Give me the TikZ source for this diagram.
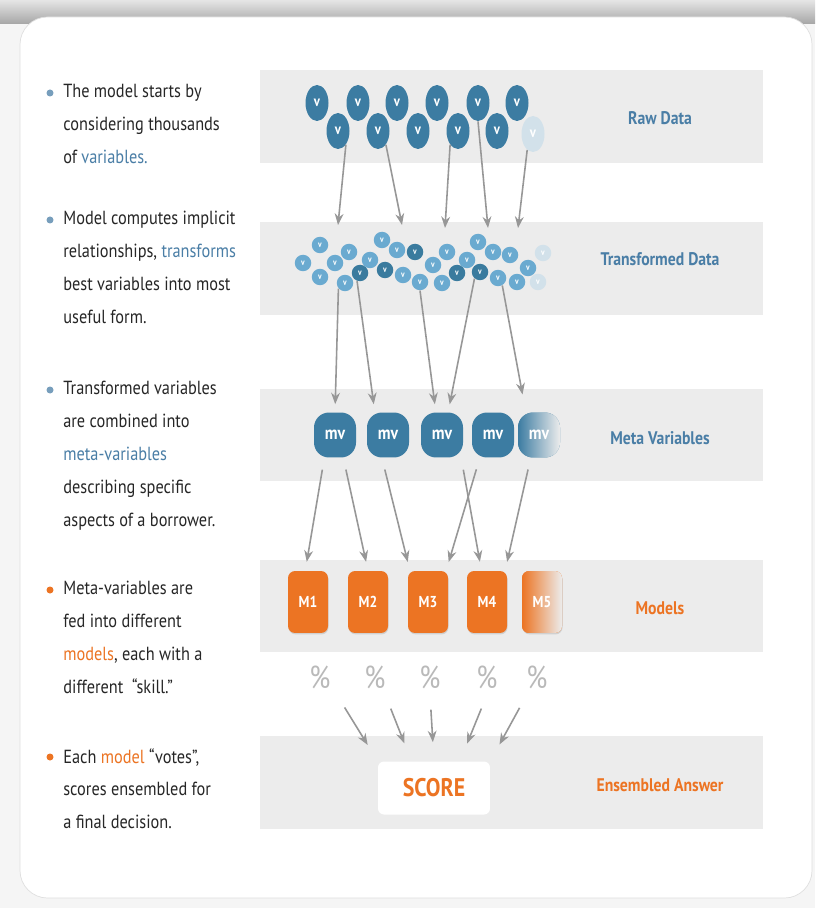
\documentclass[tikz,border=0pt]{standalone}
\usepackage{fontspec}
\setmainfont{PT Sans}[FakeStretch=0.86]
\usetikzlibrary{arrows.meta,shapes.geometric,shadows}

\definecolor{bandgray}{HTML}{ECECEC}
\definecolor{rawblue}{HTML}{3C7CA2}
\definecolor{tcL}{HTML}{6AAAD0}
\definecolor{tcD}{HTML}{3A7B9E}
\definecolor{tcF}{HTML}{D2E1EA}
\definecolor{labblue}{HTML}{4A7EA6}
\definecolor{modorange}{HTML}{EC7423}
\definecolor{txtgray}{HTML}{262626}
\definecolor{arrowgray}{HTML}{979797}

\newcommand\blurbsize{\fontsize{10.8}{18.7}\selectfont}

\tikzset{
  flow/.style={draw=arrowgray, line width=0.9pt, -{Stealth[length=6.5pt,width=5pt]}},
  rawdot/.style={ellipse, fill=rawblue, text=white, inner sep=0pt,
    minimum width=0.46cm, minimum height=0.72cm,
    font=\bfseries\fontsize{8.5}{8.5}\selectfont},
  tdot/.style={circle, text=white, inner sep=0pt, minimum size=0.33cm,
    font=\bfseries\fontsize{5}{5}\selectfont},
  mvbox/.style={rectangle, rounded corners=0.3cm, fill=rawblue, text=white,
    inner sep=0pt, minimum width=0.84cm, minimum height=0.9cm,
    font=\bfseries\fontsize{10.5}{10.5}\selectfont},
  mbox/.style={rectangle, rounded corners=0.14cm, fill=modorange, text=white,
    inner sep=0pt, minimum width=0.8cm, minimum height=1.24cm,
    drop shadow={opacity=0.25, shadow xshift=0.3pt, shadow yshift=-0.8pt},
    font=\bfseries\fontsize{9}{9}\selectfont},
  pct/.style={text=gray!55, font=\fontsize{18}{18}\selectfont},
  scorebox/.style={rectangle, rounded corners=0.12cm, fill=white, text=modorange,
    minimum width=2.24cm, minimum height=1.06cm,
    font=\bfseries\fontsize{14.5}{14.5}\selectfont},
  lab/.style={font=\bfseries\fontsize{10.4}{10.4}\selectfont},
  blurb/.style={anchor=north west, align=left, inner sep=0pt, text=txtgray, font=\blurbsize},
  bullet/.style={circle, inner sep=0pt, minimum size=0.14cm},
  vote/.style={flow, shorten <=0.3cm, shorten >=0.38cm}
}

\begin{document}
\begin{tikzpicture}[x=0.02cm, y=-0.02cm]
    \useasboundingbox (0,0) rectangle (815,908);
    % ---------------------------------------------
    % page and card
    \fill[gray!8] (0,0) rectangle (815,908);
    \shade[top color=gray!20, bottom color=gray!70] (0,0) rectangle (815,24);
    \draw[fill=white, draw=gray!25, rounded corners=0.55cm] (20,17) rectangle (812,898);

    % ---------------------------------------------
    % bands
    \fill[bandgray] (260,70) rectangle (763,163);
    \fill[bandgray] (260,222) rectangle (763,315);
    \fill[bandgray] (260,389) rectangle (763,481);
    \fill[bandgray] (260,560) rectangle (763,652);
    \fill[bandgray] (260,736) rectangle (763,829);

    % ---------------------------------------------
    % raw data
    \foreach \x [count=\i] in {317,358,397,437,478,517}
        \node[rawdot] (r\i) at (\x,103) {v};
    \foreach \x [count=\i] in {338,378,418,458,497}
        \node[rawdot] (s\i) at (\x,131) {v};
    \node[rawdot, fill=tcF] (s6) at (533,134) {v};

    % ---------------------------------------------
    % transformed data
    \foreach \x/\y/\c [count=\i] in {303/263/L, 320/245/L, 320/277/L, 335/263/L,
        349/252/L, 345/283/L, 360/273/D, 370/260/L, 382/240/L, 385/270/D,
        397/250/L, 403/275/L, 415/252/D, 420/282/L, 433/265/L, 442/283/L,
        447/252/L, 457/273/D, 467/260/L, 478/242/L, 480/272/D, 493/252/L,
        498/278/L, 510/255/L, 517/282/L, 528/268/L, 538/282/F, 543/253/F}
        \node[tdot, fill=tc\c] (t\i) at (\x,\y) {v};

    % arrows raw -> transformed
    \coordinate (in1) at (338,225);
    \coordinate (in2) at (402,225);
    \coordinate (in3) at (445,228);
    \coordinate (in4) at (488,228);
    \coordinate (in5) at (518,228);
    \draw[flow] (s1.-60) -- (in1);
    \draw[flow] (s2.-60) -- (in2);
    \draw[flow] (s4.-120) -- (in3);
    \draw[flow] (r5.south) -- (in4);
    \draw[flow] (s6.-110) -- (in5);

    % ---------------------------------------------
    % meta variables
    \foreach \x [count=\i] in {335,388,442,493}
        \node[mvbox] (mv\i) at (\x,435) {mv};
    \node[mvbox, left color=rawblue, middle color=rawblue!65!bandgray,
        right color=bandgray] (mv5) at (539,435) {mv};

    % arrows transformed -> meta
    \draw[flow, shorten >=0.16cm] (t6.-140) -- (mv1.north);
    \draw[flow, shorten >=0.16cm] (t7.-110) -- (mv2.120);
    \draw[flow, shorten >=0.16cm] (t14.south) -- (mv3.105);
    \draw[flow, shorten >=0.16cm] (t21.-130) -- (mv3.75);
    \draw[flow, shorten >=0.36cm] (t23.-60) -- (mv5.120);

    % ---------------------------------------------
    % models
    \foreach \x [count=\i] in {308,368,428,487}
        \node[mbox] (m\i) at (\x,602) {M\i};
    \node[mbox, left color=modorange, middle color=modorange!70!bandgray,
        right color=bandgray] (m5) at (542,602) {M5};

    % arrows meta -> models
    \draw[flow, shorten <=0.24cm, shorten >=0.18cm] (mv1.-115) -- (m1.95);
    \draw[flow, shorten <=0.24cm, shorten >=0.18cm] (mv1.-70) -- (m2.north);
    \draw[flow, shorten <=0.24cm, shorten >=0.18cm] (mv2.-105) -- (m3.120);
    \draw[flow, shorten <=0.24cm, shorten >=0.18cm] (mv3.-50) -- (m4.100);
    \draw[flow, shorten <=0.24cm, shorten >=0.18cm] (mv4.-120) -- (m3.60);
    \draw[flow, shorten <=0.24cm, shorten >=0.18cm] (mv5.-110) -- (m4.60);

    % ---------------------------------------------
    % votes and score
    \foreach \x [count=\i] in {320,375,430,487,537}
        \node[pct] (p\i) at (\x,677) {\%};
    \node[scorebox] (score) at (434,788) {SCORE};
    \draw[vote] (p1.south east) -- (score.north west);
    \draw[vote] (p2.-60) -- (score.130);
    \draw[vote] (p3.south) -- (score.north);
    \draw[vote] (p4.south) -- (score.46);
    \draw[vote] (p5.-120) -- (score.north east);

    % ---------------------------------------------
    % band labels
    \node[lab, text=labblue] (lab1) at (660,118) {Raw Data};
    \node[lab, text=labblue] (lab2) at (660,259) {Transformed Data};
    \node[lab, text=labblue] (lab3) at (660,438) {Meta Variables};
    \node[lab, text=modorange] (lab4) at (660,608) {Models};
    \node[lab, text=modorange] (lab5) at (660,785) {Ensembled Answer};

    % ---------------------------------------------
    % left column text
    \node[bullet, fill=labblue!75] (b1) at (50,93) {};
    \node[blurb] (txt1) at (63,84) {The model starts by\\considering thousands\\of \textcolor{labblue}{variables.}};
    \node[bullet, fill=labblue!75] (b2) at (50,220) {};
    \node[blurb] (txt2) at (63,211) {Model computes implicit\\relationships, \textcolor{labblue}{transforms}\\best variables into most\\useful form.};
    \node[bullet, fill=labblue!75] (b3) at (50,390) {};
    \node[blurb] (txt3) at (63,381) {Transformed variables\\are combined into\\\textcolor{labblue}{meta-variables}\\describing specific\\aspects of a borrower.};
    \node[bullet, fill=modorange] (b4) at (50,590) {};
    \node[blurb] (txt4) at (63,581) {Meta-variables are\\fed into different\\\textcolor{modorange}{models}, each with a\\different \ “skill.”};
    \node[bullet, fill=modorange] (b5) at (50,757) {};
    \node[blurb] (txt5) at (63,748) {Each \textcolor{modorange}{model} “votes”,\\scores ensembled for\\a final decision.};

\end{tikzpicture}
\end{document}
